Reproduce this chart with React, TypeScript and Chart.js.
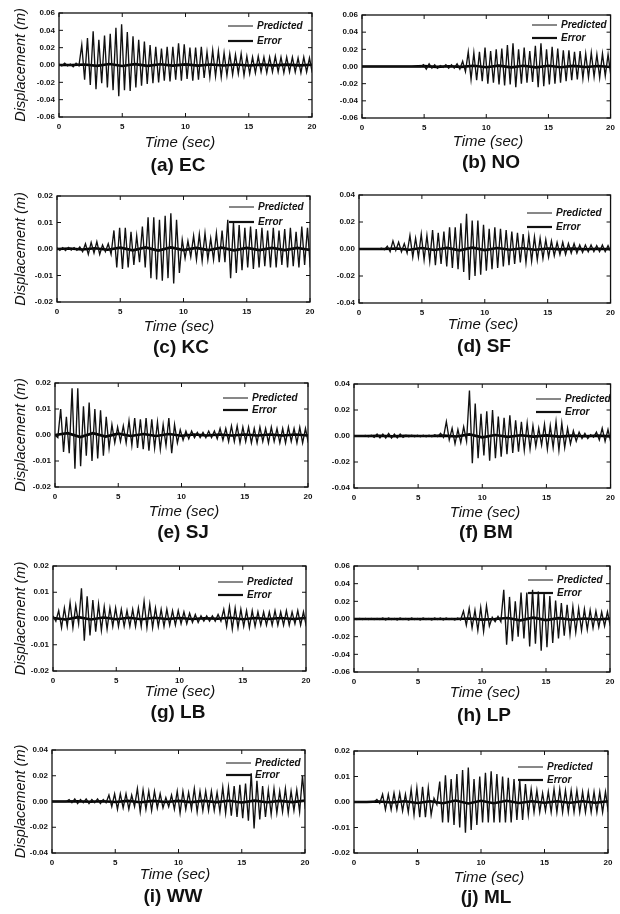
import React, { useEffect, useRef } from 'react';
import { Chart, registerables } from 'chart.js';

Chart.register(...registerables);

// ---------- data (displacement in mm) ----------
const T_STEP = 0.45; // s between successive positive peaks (negative peak half-way)
const ERR_STEP = 1; // s between error samples
const X_TICKS = [0, 5, 10, 15, 20];
const SERIES_NAMES = ['Predicted', 'Error'];
const CAPTIONS = ['(a) EC', '(b) NO', '(c) KC', '(d) SF', '(e) SJ', '(f) BM', '(g) LB', '(h) LP', '(i) WW', '(j) ML'];
const Y_LIMITS = [0.06, 0.06, 0.02, 0.04, 0.02, 0.04, 0.02, 0.06, 0.04, 0.02];
const Y_STEPS = [0.02, 0.02, 0.01, 0.02, 0.01, 0.02, 0.01, 0.02, 0.02, 0.01];

const EC_POS = [1,2,1,2,23,31,39,29,34,36,43,47,38,33,29,27,23,21,19,21,21,25,24,20,20,21,15,17,16,14,13,12,13,10,9,10,9,9,10,9,9,9,8,9,8];
const EC_NEG = [-1,-1,-2,-1,-17,-23,-28,-21,-26,-29,-36,-29,-30,-26,-24,-22,-21,-20,-18,-19,-17,-18,-16,-18,-17,-15,-14,-13,-14,-12,-11,-10,-12,-10,-9,-8,-9,-8,-8,-9,-8,-8,-9,-8,-9];
const EC_ERR = [0,0,0.6,-1,1.2,-1.2,1,-1,0.8,-0.7,0.7,-0.7,0.6,-0.6,0.5,-0.5,0.4,-0.4,0.4,-0.4,0.3];

const NO_POS = [0,0,0,0,0,0,0,0,0,0,0,2,3,2,1,2,2,3,6,17,16,17,22,18,20,21,25,27,20,22,18,24,27,20,23,21,19,19,17,18,15,16,14,15,14];
const NO_NEG = [0,0,0,0,0,0,0,0,0,0,0,-3,-2,-2,-1,-2,-2,-3,-6,-15,-16,-17,-20,-19,-21,-22,-21,-24,-20,-19,-18,-24,-23,-21,-20,-19,-17,-16,-15,-14,-13,-12,-13,-11,-11];
const NO_ERR = [0,0,0,0,0,0.4,-0.4,0.3,-0.4,0.8,-0.8,1,-1,0.9,-1,0.9,-0.8,0.7,-0.6,0.6,-0.5];

const KC_POS = [0.5,0.5,0.6,0.5,0.8,2,2.5,2.8,1.5,2,7,8,8,6.5,5,8.5,12,12,11,12.5,13.5,11,3.5,3,5,5.5,6,4,6,7,11,10,9,8,8.5,7.5,8,7,8,7,7.5,8,6.5,8.5,8];
const KC_NEG = [-0.5,-0.6,-0.4,-0.5,-1,-2,-1.5,-2,-1,-2,-7,-7.5,-7,-6,-5,-7,-11,-11.5,-12,-11,-13,-9,-3.5,-3,-4,-4.5,-4,-4,-5,-5,-11,-9,-8,-7,-7.5,-7,-6.5,-7,-7,-6,-7,-6.5,-7,-6,-7];
const KC_ERR = [0,0.2,-0.2,0.3,-0.3,0.5,-0.5,0.6,-0.6,0.6,-0.4,0.4,-0.4,0.5,-0.5,0.4,-0.4,0.4,-0.4,0.4,-0.4];

const SF_POS = [0,0,0,0,0.5,2,6,5,4,10,8,11,10,14,12,13,16,16,19,26,21,21,18,15,16,15,14,13,12,11,10,9,8,7,6,5,5,4,4,3,3,3,2.5,3,2.5];
const SF_NEG = [0,0,0,0,-0.5,-2,-1,-2,-3,-6,-6,-8,-9,-12,-11,-13,-14,-15,-17,-23,-20,-19,-16,-15,-14,-13,-12,-11,-10,-10,-9,-8,-7,-6,-5,-4,-4,-3,-3,-2.5,-2,-2,-2,-2,-2];
const SF_ERR = [0,0,0,0.4,-0.6,0.7,-0.7,0.8,-1,1,-0.8,0.7,-0.6,0.6,-0.5,0.4,-0.3,0.3,-0.2,0.2,-0.2];

const SJ_POS = [0,10,7,18,18,11,12.5,10,9.5,7,4,3,3.5,5.5,6.5,6,6.5,6,5,4,6.5,4,2,1.5,1.5,1,1,1.5,1.5,2.5,2.5,3.5,3.5,3,3,2.5,3,2.5,3,2.5,2.5,3,2.5,3,2.5];
const SJ_NEG = [-1,-6.5,-7,-13,-12,-8,-10,-9,-8,-5,-3,-2.5,-3,-4,-5,-5.5,-6,-5,-5.5,-4,-7,-3,-2,-1.5,-1,-1,-1,-1,-1.5,-2,-2.5,-2.5,-3,-2.5,-3,-3,-2.5,-3,-2.5,-3,-3,-2.5,-3,-3,-3];
const SJ_ERR = [0,0.7,-0.8,0.7,-0.6,0.5,-0.4,0.4,-0.4,0.4,-0.3,0.2,-0.2,0.2,-0.2,0.2,-0.2,0.2,-0.2,0.2,-0.2];

const BM_POS = [0,0,0.5,0.5,1.5,1.5,2,1.5,1.5,0.5,0.5,0.5,0.5,0.5,1,2,11,6,5,7,35,25,17,19,20,15,14,16,12,11,10,8,6,9,8,11,10,6,4,3,2,1,3,6,5];
const BM_NEG = [0,0,-0.5,-1,-1.5,-1.5,-1.5,-1.5,-1,-0.5,-0.5,-0.5,-0.5,-0.5,-0.5,-1,-3,-6,-5,-4,-21,-17,-15,-19,-17,-16,-14,-13,-12,-11,-10,-8,-7,-10,-9,-11,-9,-6,-4,-2,-2,-1,-3,-4,-5];
const BM_ERR = [0,0,0.2,-0.2,0.1,0,0,0.3,-0.4,1.2,-1,0.8,-0.7,0.6,-0.5,0.5,-0.5,0.3,-0.2,0.3,-0.3];

const LB_POS = [1,3,4,6,5,11.5,8.5,7,5.5,4.5,4,4,3.5,3,3.5,4,6.5,5.5,4,3.5,3.5,3,3,2.5,2,1.5,1,1,1,1.5,3.5,4.5,4,3.5,3,3,2.5,2.5,2.5,3,2.5,3,2.5,3,2.5];
const LB_NEG = [-1,-3.5,-3,-3.5,-2,-8.5,-6.5,-5,-4.5,-4,-3,-3,-3,-3,-3,-3,-3.5,-3.5,-3,-3,-2.5,-2.5,-2,-2,-1.5,-1.5,-1,-1,-1,-1,-3,-4,-3.5,-3,-3.5,-3,-2.5,-2.5,-2.5,-2.5,-2.5,-2.5,-2,-2.5,-3];
const LB_ERR = [0.2,-0.4,0.5,-0.4,0.4,-0.3,0.3,-0.3,0.3,-0.2,0.2,-0.2,0.1,-0.1,0.3,-0.3,0.2,-0.2,0.2,-0.2,0.2];

const LP_POS = [0.5,0.5,0.5,0.5,0.5,1,1,0.5,1,0.5,1,0.5,1,0.5,1,1,1,0.5,1,9,12,10,13,15,2,3,33,25,20,30,30,33,31,30,26,21,18,16,14,12,11,10,9,8,8];
const LP_NEG = [-0.5,-0.5,-0.5,-0.5,-0.5,-1,-0.5,-1,-0.5,-1,-0.5,-1,-0.5,-1,-0.5,-1,-0.5,-1,-1,-7,-10,-13,-14,-8,-3,-3,-29,-25,-20,-22,-31,-28,-36,-32,-27,-22,-19,-17,-15,-13,-12,-10,-9,-8,-8];
const LP_ERR = [0,0,0,0,0,0,0,0,0,0.6,-0.7,0,1.2,-1.5,1.5,-1.2,1,-0.8,0.6,-0.5,0.4];

const WW_POS = [0,0,0,1.5,2,1.5,2,1.5,2,1.5,5,6,6,6,5,10,9,8,8,6,3,5,8,8,7,10,8,8,8,7,11,11,12,13,14,22,16,12,9,10,8,10,8,9,20];
const WW_NEG = [0,0,0,-1,-1.5,-1,-1.5,-1,-1.5,-1,-4,-6,-5,-6,-4,-8,-6,-7,-5,-5,-4,-6,-9,-6,-6,-8,-7,-7,-7,-8,-9,-11,-12,-13,-15,-21,-14,-12,-10,-9,-8,-9,-7,-8,-6];
const WW_ERR = [0,0,0.2,-0.2,0.2,-0.4,0.5,-0.6,0.5,-0.4,0.5,-0.5,0.5,-0.5,0.6,-0.8,0.7,-0.6,0.5,-0.5,0.7];

const ML_POS = [0,0,0,0,1,3,3,3.5,3.5,3,5,5.5,6,5.5,1.5,8,10.5,9,11,12.5,13.5,9,10,11.5,12,11,10,9.5,9,8.5,7,5,4.5,3.5,4,5,5,4.5,4.5,4.5,4,4,4,4,4];
const ML_NEG = [0,0,0,0,-0.5,-3,-3,-3,-3.5,-4,-5,-6,-6,-5,-1,-8,-8,-9,-10,-12,-11,-9,-8,-8,-8,-8,-8,-8,-7,-7,-5,-4,-4,-3.5,-4,-4,-4,-4,-4,-4,-4,-4,-4,-4,-4];
const ML_ERR = [0,0,0.2,-0.2,0.3,-0.4,0.3,-0.5,0.6,-0.6,0.5,-0.5,0.5,-0.4,0.3,-0.3,0.3,-0.3,0.3,-0.3,0.3];

const POS = [EC_POS, NO_POS, KC_POS, SF_POS, SJ_POS, BM_POS, LB_POS, LP_POS, WW_POS, ML_POS];
const NEG = [EC_NEG, NO_NEG, KC_NEG, SF_NEG, SJ_NEG, BM_NEG, LB_NEG, LP_NEG, WW_NEG, ML_NEG];
const ERR = [EC_ERR, NO_ERR, KC_ERR, SF_ERR, SJ_ERR, BM_ERR, LB_ERR, LP_ERR, WW_ERR, ML_ERR];

// ---------- layout (page pixel positions of each panel) ----------
const LAYOUT = [
  { L: 59, T: 13, R: 312, B: 117, tX: 180, tY: 143, cX: 178, cY: 166, lX: 257, lY: 26, eY: 41 },
  { L: 362, T: 15, R: 612, B: 118, tX: 488, tY: 142, cX: 491, cY: 163, lX: 561, lY: 25, eY: 38 },
  { L: 57, T: 196, R: 310, B: 302, tX: 179, tY: 327, cX: 181, cY: 348, lX: 258, lY: 207, eY: 222 },
  { L: 359, T: 195, R: 613, B: 303, tX: 483, tY: 325, cX: 484, cY: 347, lX: 556, lY: 213, eY: 227 },
  { L: 55, T: 383, R: 308, B: 487, tX: 184, tY: 512, cX: 183, cY: 533, lX: 252, lY: 398, eY: 410 },
  { L: 354, T: 384, R: 612, B: 488, tX: 485, tY: 513, cX: 486, cY: 533, lX: 565, lY: 399, eY: 412 },
  { L: 53, T: 566, R: 306, B: 671, tX: 180, tY: 692, cX: 178, cY: 713, lX: 247, lY: 582, eY: 595 },
  { L: 354, T: 566, R: 610, B: 672, tX: 485, tY: 693, cX: 484, cY: 716, lX: 557, lY: 580, eY: 593 },
  { L: 52, T: 750, R: 305, B: 853, tX: 175, tY: 875, cX: 173, cY: 897, lX: 255, lY: 763, eY: 775 },
  { L: 354, T: 751, R: 608, B: 853, tX: 489, tY: 878, cX: 486, cY: 898, lX: 547, lY: 767, eY: 780 },
];

const FONT = "'Liberation Sans', Arial, Helvetica, sans-serif";
const INK = '#111';

function Panel({ idx }: { idx: number }) {
  const ref = useRef<HTMLCanvasElement | null>(null);
  const lay = LAYOUT[idx];
  const leftCol = lay.L < 200;
  const cx = leftCol ? 0 : 320;
  const cw = leftCol ? 330 : 300;
  const cy = lay.T - 13;
  const ch = lay.B - lay.T + 13 + 62;

  useEffect(() => {
    const pos = POS[idx];
    const neg = NEG[idx];
    const pred: { x: number; y: number }[] = [];
    pos.forEach((p, k) => {
      pred.push({ x: k * T_STEP, y: p / 1000 });
      pred.push({ x: k * T_STEP + T_STEP / 2, y: neg[k] / 1000 });
    });
    const errPts = ERR[idx].map((e, k) => ({ x: k * ERR_STEP, y: e / 1000 }));
    const lim = Y_LIMITS[idx];

    const decor = {
      id: 'panelDecor',
      afterDatasetsDraw(chart: any) {
        const { ctx, chartArea: a, scales } = chart;
        ctx.save();
        ctx.strokeStyle = INK;
        ctx.lineWidth = 1.3;
        ctx.strokeRect(a.left, a.top, a.right - a.left, a.bottom - a.top);
        ctx.lineWidth = 1;
        ctx.beginPath();
        scales.x.ticks.forEach((t: any) => {
          const px = scales.x.getPixelForValue(t.value);
          ctx.moveTo(px, a.bottom); ctx.lineTo(px, a.bottom - 4);
          ctx.moveTo(px, a.top); ctx.lineTo(px, a.top + 4);
        });
        scales.y.ticks.forEach((t: any) => {
          const py = scales.y.getPixelForValue(t.value);
          ctx.moveTo(a.left, py); ctx.lineTo(a.left + 4, py);
          ctx.moveTo(a.right, py); ctx.lineTo(a.right - 4, py);
        });
        ctx.stroke();

        // legend inside plot
        const lx = lay.lX - cx;
        const ys = [lay.lY - cy, lay.eY - cy];
        const widths = [1, 2.2];
        chart.data.datasets.forEach((ds: any, i: number) => {
          ctx.lineWidth = widths[i];
          ctx.beginPath();
          ctx.moveTo(lx - 29, ys[i]);
          ctx.lineTo(lx - 4, ys[i]);
          ctx.stroke();
          ctx.fillStyle = INK;
          ctx.font = `italic bold 10px ${FONT}`;
          ctx.textAlign = 'left';
          ctx.textBaseline = 'middle';
          ctx.fillText(ds.label, lx, ys[i]);
        });

        // axis title and caption below the plot
        ctx.fillStyle = INK;
        ctx.textAlign = 'center';
        ctx.textBaseline = 'middle';
        ctx.font = `italic 15px ${FONT}`;
        ctx.fillText('Time (sec)', lay.tX - cx, lay.tY - cy);
        ctx.font = `bold 19px ${FONT}`;
        ctx.fillText(CAPTIONS[idx], lay.cX - cx, lay.cY - cy);
        ctx.restore();
      },
    };

    const tickFont = { family: FONT, size: 8, weight: 'bold' as const };
    const chart = new Chart(ref.current as HTMLCanvasElement, {
      type: 'line',
      data: {
        datasets: [
          { label: SERIES_NAMES[0], data: pred, borderColor: INK, borderWidth: 1.35, pointRadius: 0, tension: 0, fill: false },
          { label: SERIES_NAMES[1], data: errPts, borderColor: '#000', borderWidth: 2.6, pointRadius: 0, tension: 0, fill: false },
        ],
      },
      options: {
        animation: false,
        responsive: false,
        events: [],
        layout: { padding: { left: 0, top: 13, right: cx + cw - lay.R, bottom: 0 } },
        plugins: { legend: { display: false }, tooltip: { enabled: false }, title: { display: false } },
        scales: {
          x: {
            type: 'linear',
            min: 0,
            max: 20,
            afterBuildTicks: (s: any) => { s.ticks = X_TICKS.map((v) => ({ value: v })); },
            afterFit: (s: any) => { s.height = 62; },
            grid: { display: false, drawTicks: false },
            border: { display: false },
            ticks: { padding: 5, font: tickFont, color: INK, maxRotation: 0, autoSkip: false, callback: (v: any) => String(v) },
          },
          y: {
            type: 'linear',
            min: -lim,
            max: lim,
            afterFit: (s: any) => { s.width = lay.L - cx; },
            grid: { display: false, drawTicks: false },
            border: { display: false },
            ticks: {
              stepSize: Y_STEPS[idx],
              padding: 4,
              font: tickFont,
              color: INK,
              callback: (v: any) => (Math.abs(Number(v)) < 1e-9 ? '0.00' : Number(v).toFixed(2)),
            },
            title: leftCol
              ? { display: true, text: 'Displacement (m)', color: INK, font: { family: FONT, size: 14.5, style: 'italic' }, padding: { top: 12.5, bottom: 0 } }
              : { display: false },
          },
        },
      } as any,
      plugins: [decor],
    });
    return () => chart.destroy();
  }, [idx]);

  return (
    <canvas
      ref={ref}
      width={cw}
      height={ch}
      style={{ position: 'absolute', left: cx, top: cy, width: cw, height: ch }}
    />
  );
}

export default function App() {
  return (
    <div style={{ position: 'absolute', left: 0, top: 0, width: 620, height: 914, background: '#fff', overflow: 'hidden' }}>
      {CAPTIONS.map((_, i) => (
        <Panel key={i} idx={i} />
      ))}
    </div>
  );
}
